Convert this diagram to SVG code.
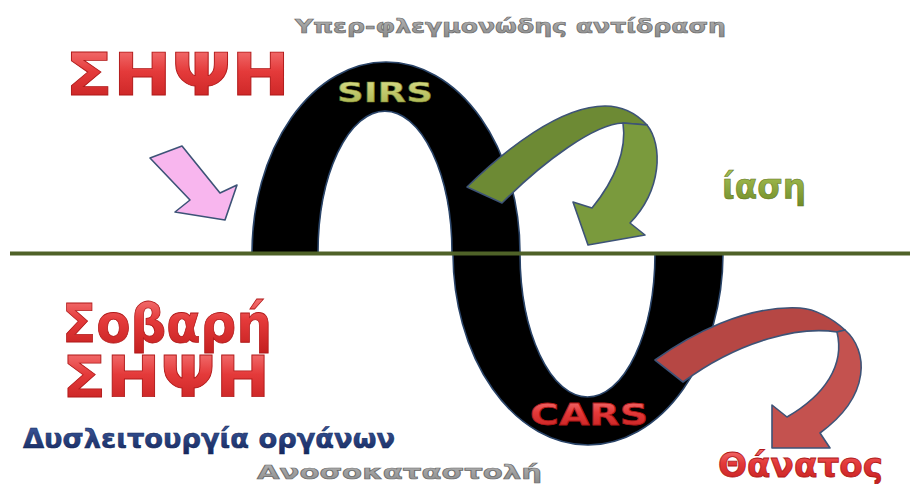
<svg xmlns="http://www.w3.org/2000/svg" width="910" height="484" viewBox="0 0 910 484">
<defs>
<linearGradient id="gRed" x1="0" y1="0" x2="0" y2="1">
<stop offset="0" stop-color="#f78080"/><stop offset="0.45" stop-color="#e43a3a"/><stop offset="1" stop-color="#c21e1e"/>
</linearGradient>
<linearGradient id="gGreen" x1="0" y1="0" x2="0" y2="1">
<stop offset="0" stop-color="#aec85a"/><stop offset="1" stop-color="#6e8a26"/>
</linearGradient>
<linearGradient id="gSirs" x1="0" y1="0" x2="0" y2="1">
<stop offset="0" stop-color="#dadf8c"/><stop offset="1" stop-color="#a6b04c"/>
</linearGradient>
<linearGradient id="gNavy" x1="0" y1="0" x2="0" y2="1">
<stop offset="0" stop-color="#3d5a9e"/><stop offset="1" stop-color="#14285e"/>
</linearGradient>
<linearGradient id="gGray" x1="0" y1="0" x2="0" y2="1">
<stop offset="0" stop-color="#b8b8b8"/><stop offset="1" stop-color="#8a8a8a"/>
</linearGradient>
<style>
text{font-family:"DejaVu Sans","Noto Sans",sans-serif;font-weight:bold}
.red{fill:url(#gRed);stroke:#b01818;stroke-width:0.8}
.gray{fill:url(#gGray);stroke:#6c6c6c;stroke-width:0.7}
.arrow{stroke:#3d5377;stroke-width:1.6;stroke-linejoin:round}
.loop{fill:#000;stroke:#2a4468;stroke-width:1.6}
</style>
</defs>
<rect width="910" height="484" fill="#fff"/>

<g id="loop">
<path class="loop" d="M252,253 A134,191 0 0 1 520,253 L452,253 A67,142 0 0 0 318,253 Z"/>
<path class="loop" d="M453,253 A135,192 0 0 0 723,253 L655,253 A67.5,144 0 0 1 520,253 Z"/>
</g>

<g id="baseline">
<line x1="10" y1="253.5" x2="910" y2="253.5" stroke="#4f6228" stroke-width="4"/>
</g>

<g id="connectors">
<path class="arrow" fill="#f8b6ee" d="M150,158 L190,200 L175,212 L225,220 L237,185 L220,193 L182,146 Z"/>
<path class="arrow" fill="#6d8a34" d="M467,187 C505,150 560,106 605,106 C620,106 635,112 647,125 L623,123 C595,124 545,160 502,203 Z"/>
<path class="arrow" fill="#7a9a3d" d="M623,123 L647,125 C663,145 662,190 630,223 L645,235 L588,245 L573,202 L592,208 C615,180 627,150 623,123 Z"/>
<path class="arrow" fill="#b64744" d="M655,360 C690,335 745,305 800,308 C815,309 832,318 845,330 L837,332 C800,326 740,340 683,382 Z"/>
<path class="arrow" fill="#c4524f" d="M837,332 L845,330 C868,350 872,395 820,433 L830,448 L772,448 L772,405 L787,417 C825,395 845,365 837,332 Z"/>
</g>

<g id="title">
<text class="gray" x="295" y="33" font-size="20" textLength="431" lengthAdjust="spacingAndGlyphs">Υπερ-φλεγμονώδης αντίδραση</text>
</g>
<g id="sepsis">
<text class="red" x="65" y="95" font-size="58" textLength="225" lengthAdjust="spacingAndGlyphs">ΣΗΨΗ</text>
</g>
<g id="sirs">
<text x="337" y="102" font-size="27" fill="url(#gSirs)" stroke="#7d8730" stroke-width="0.5" textLength="96" lengthAdjust="spacingAndGlyphs">SIRS</text>
</g>
<g id="iasi">
<text x="722" y="199" font-size="36" fill="url(#gGreen)" stroke="#5d7520" stroke-width="0.6" textLength="84" lengthAdjust="spacingAndGlyphs">ίαση</text>
</g>
<g id="severe-sepsis">
<text class="red" x="62" y="342" font-size="54" textLength="210" lengthAdjust="spacingAndGlyphs">Σοβαρή</text>
<text class="red" x="62" y="397" font-size="56" textLength="208" lengthAdjust="spacingAndGlyphs">ΣΗΨΗ</text>
</g>
<g id="organ-dysfunction">
<text x="23" y="448" font-size="26" fill="url(#gNavy)" stroke="#122455" stroke-width="0.5" textLength="372" lengthAdjust="spacingAndGlyphs">Δυσλειτουργία οργάνων</text>
</g>
<g id="immunosuppression">
<text class="gray" x="257" y="479" font-size="20" textLength="285" lengthAdjust="spacingAndGlyphs">Ανοσοκαταστολή</text>
</g>
<g id="cars">
<text class="red" x="530" y="425" font-size="31" textLength="118" lengthAdjust="spacingAndGlyphs">CARS</text>
</g>
<g id="death">
<text class="red" x="718" y="477" font-size="34" textLength="165" lengthAdjust="spacingAndGlyphs">Θάνατος</text>
</g>
</svg>
